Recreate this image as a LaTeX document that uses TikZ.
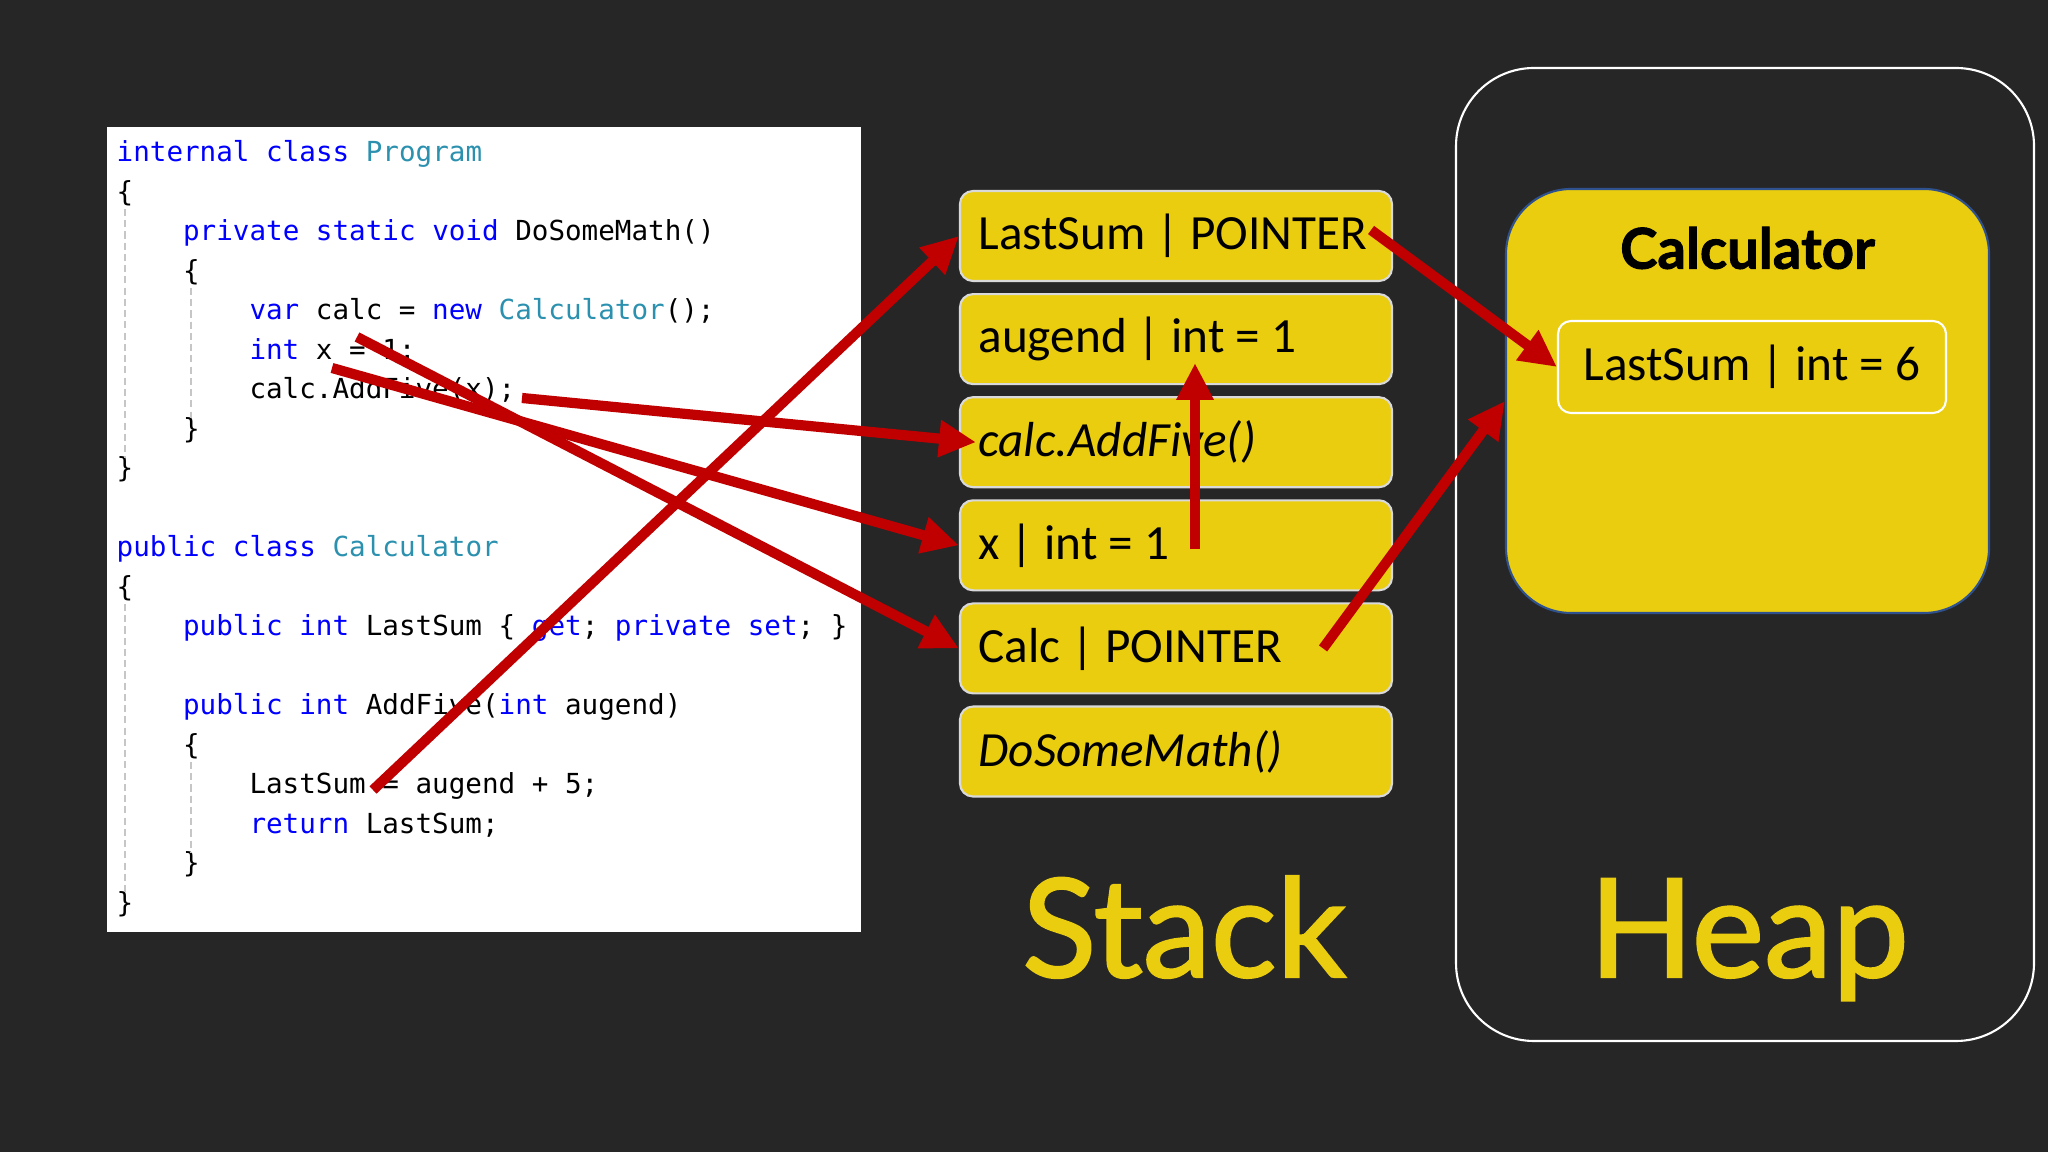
\documentclass[tikz,border=0pt]{standalone}
\usepackage{fontspec}
\setmainfont{Carlito}
\setmonofont{DejaVu Sans Mono}
\newfontfamily\latofont[FakeBold=1.6]{Lato}
\usepackage{tikz}
\usetikzlibrary{positioning, arrows.meta}

\definecolor{slidebg}{RGB}{38,38,38}
\definecolor{boxyellow}{RGB}{234,205,15}
\definecolor{ptrred}{RGB}{192,0,0}
\definecolor{kwblue}{RGB}{0,0,255}
\definecolor{typeteal}{RGB}{43,145,175}
\definecolor{framenavy}{RGB}{47,82,143}

\newcommand{\kw}[1]{\textcolor{kwblue}{#1}}
\newcommand{\ty}[1]{\textcolor{typeteal}{#1}}

\begin{document}
\begin{tikzpicture}[x=0.1mm, y=-0.1mm,
			>={Triangle[length=10.5pt,width=10pt]},   % Pfeilspitzen
			codeline/.style={anchor=base west, inner sep=0pt, font=\ttfamily\fontsize{7.85}{9}\selectfont},
			guide/.style={gray!45, line width=0.3pt, dash pattern=on 2pt off 1.2pt},
			stackbox/.style={draw=white!85!black, line width=0.6pt, fill=boxyellow, rounded corners=1.3mm,
				minimum width=4.32cm, minimum height=0.9cm, text width=3.95cm, align=flush left, inner xsep=1.85mm,
				font=\fontsize{14}{16}\selectfont},
			pointer/.style={->, ptrred, line width=2.9pt},
			bigword/.style={text=boxyellow, font=\latofont\fontsize{39}{42}\selectfont, anchor=base}]
			% Hintergrund
			\fill[slidebg] (0,0) rectangle (2048,1152);
			\useasboundingbox (0,0) rectangle (2048,1152);
			% Code
			\fill[white] (107,127) rectangle (861,932);
			\node[codeline] (c0) at (116,162) {\kw{internal} \kw{class} \ty{Program}};
			\node[codeline] (c1) at (116,201.5) {\{};
			\node[codeline] (c2) at (182.4,241) {\kw{private} \kw{static} \kw{void} DoSomeMath()};
			\node[codeline] (c3) at (182.4,280.5) {\{};
			\node[codeline] (c4) at (248.8,320) {\kw{var} calc = \kw{new} \ty{Calculator}();};
			\node[codeline] (c5) at (248.8,359.5) {\kw{int} x = 1;};
			\node[codeline] (c6) at (248.8,399) {calc.AddFive(x);};
			\node[codeline] (c7) at (182.4,438.5) {\}};
			\node[codeline] (c8) at (116,478) {\}};
			\node[codeline] (c10) at (116,557) {\kw{public} \kw{class} \ty{Calculator}};
			\node[codeline] (c11) at (116,596.5) {\{};
			\node[codeline] (c12) at (182.4,636) {\kw{public} \kw{int} LastSum \{ \kw{get}; \kw{private} \kw{set}; \}};
			\node[codeline] (c14) at (182.4,715) {\kw{public} \kw{int} AddFive(\kw{int} augend)};
			\node[codeline] (c15) at (182.4,754.5) {\{};
			\node[codeline] (c16) at (248.8,794) {LastSum = augend + 5;};
			\node[codeline] (c17) at (248.8,833.5) {\kw{return} LastSum;};
			\node[codeline] (c18) at (182.4,873) {\}};
			\node[codeline] (c19) at (116,912.5) {\}};
			% Einrueckungslinien
			\draw[guide] (125,209) -- (125,458);
			\draw[guide] (191,288) -- (191,418);
			\draw[guide] (125,604) -- (125,893);
			\draw[guide] (191,762) -- (191,853);
			% Stack
			\node[stackbox] (s1) at (1176,236) {LastSum | POINTER};
			\node[stackbox, below=1.1mm of s1] (s2) {augend | int = 1};
			\node[stackbox, below=1.1mm of s2] (s3) {\itshape calc.AddFive()};
			\node[stackbox, below=1.1mm of s3] (s4) {x | int = 1};
			\node[stackbox, below=1.1mm of s4] (s5) {Calc | POINTER};
			\node[stackbox, below=1.1mm of s5] (s6) {\itshape DoSomeMath()};
			\node[bigword] (stacklabel) at (1184,977) {Stack};
			% Heap
			\draw[white, line width=0.6pt, rounded corners=7.8mm] (1456,68) rectangle (2034,1041);
			\node[draw=framenavy, line width=0.6pt, fill=boxyellow, rounded corners=6.5mm,
				minimum width=4.83cm, minimum height=4.24cm] (calcobj) at (1747.5,401) {};
			\node[font=\latofont\bfseries\fontsize{16}{18}\selectfont] (calctitle) at (1747.5,248) {Calculator};
			\node[draw=white, line width=0.6pt, fill=boxyellow, rounded corners=1.3mm,
				minimum width=3.88cm, minimum height=0.92cm, font=\fontsize{14}{16}\selectfont] (lastsum) at (1752,367) {LastSum | int = 6};
			\node[bigword] (heaplabel) at (1749,977) {Heap};
			% Pfeile
			\coordinate (fromSum) at (373,790);
			\coordinate (fromCalc) at (357,337);
			\coordinate (fromX) at (332,368);
			\coordinate (fromCall) at (522,398);
			\draw[pointer] (fromSum) -- (s1.west);
			\draw[pointer] (fromCall) -- ([xshift=1.7mm]s3.west);
			\draw[pointer] (fromX) -- (s4.west);
			\draw[pointer] (fromCalc) -- (s5.west);
			\draw[pointer] ([xshift=1.9mm,yshift=-0.4mm]s4.center) -- ([xshift=1.9mm,yshift=-2.4mm]s2.center);
			\draw[pointer] ([xshift=-2.2mm,yshift=0.6mm]s1.east) -- (lastsum.west);
			\draw[pointer] ([xshift=-7mm]s5.east) -- (calcobj.west);
		\end{tikzpicture}
\end{document}
